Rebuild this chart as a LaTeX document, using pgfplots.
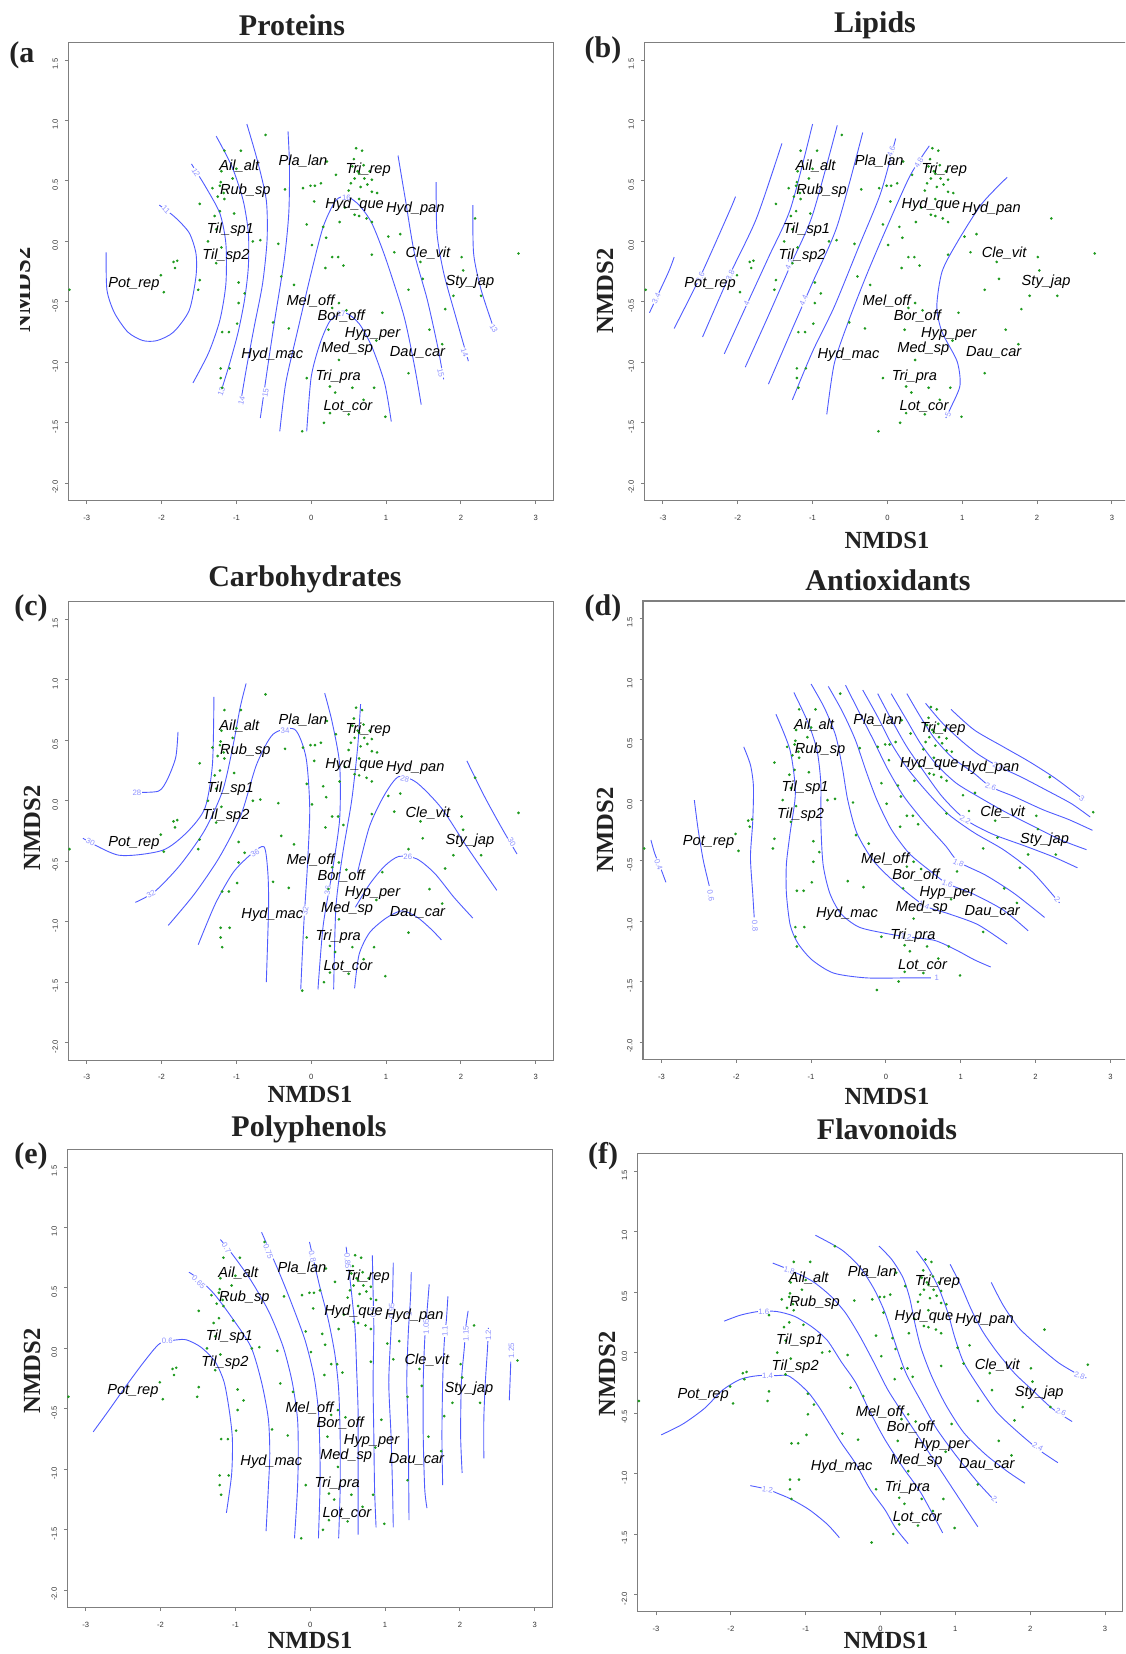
\documentclass[border=0pt]{standalone}
\usepackage{fontspec}
\setmainfont{Liberation Serif}
\newfontfamily\sfam{Liberation Sans}
\usepackage{pgfplots}
\usepackage{pgfplotstable}
\pgfplotsset{compat=1.18}

\definecolor{CBlue}{HTML}{4F5BFF}
\definecolor{CLab}{HTML}{8E92FF}
\definecolor{DotG}{HTML}{1F9A1F}
\definecolor{Frame}{HTML}{7F7F7F}
\definecolor{TickC}{HTML}{333333}
\definecolor{Ink}{HTML}{222222}

\newcommand\tickfont{\sfam\fontsize{3.8}{4.5}\selectfont}
\newcommand\spfont{\sfam\itshape\fontsize{7.3}{8}\selectfont}
\newcommand\clabfont{\sfam\fontsize{3.9}{4.5}\selectfont}

% sample scores (NMDS1, NMDS2)
\pgfplotstableread{
x y
-0.61 0.88
-1.16 0.75
-0.94 0.75
-1.00 0.60
-1.21 0.49
-1.22 0.46
-1.32 0.44
-1.25 0.37
-1.16 0.35
-1.49 0.31
-1.22 0.25
-1.03 0.23
-1.29 0.21
-0.78 0.00
-0.68 0.01
-0.44 -0.02
-1.79 -0.16
-1.84 -0.17
-1.82 -0.22
-1.27 -0.18
-1.49 -0.32
-2.01 -0.28
-1.97 -0.42
-1.51 -0.40
-3.23 -0.40
-0.97 -0.34
-0.89 -0.43
-0.97 -0.51
-0.99 -0.68
-1.19 -0.75
-1.10 -0.75
-0.51 -0.67
-0.30 -0.72
-0.40 -0.29
-0.23 -0.36
-1.21 -1.05
-1.09 -1.05
-1.21 -1.13
-1.19 -1.21
-0.35 0.43
-0.11 0.44
-0.01 0.46
0.05 0.46
0.13 0.48
0.04 0.33
-0.06 0.14
0.01 -0.03
0.16 0.12
0.28 -0.13
0.36 -0.13
0.43 -0.20
0.19 -0.22
0.20 0.03
0.38 0.16
0.21 0.66
0.33 0.55
0.60 0.77
0.68 0.75
0.57 0.68
0.55 0.62
0.64 0.56
0.71 0.52
0.81 0.51
0.53 0.48
0.50 0.42
0.81 0.41
0.88 0.40
0.64 0.35
0.74 0.19
0.81 0.16
0.64 0.21
1.03 0.04
1.19 0.06
1.11 -0.09
0.81 -0.11
1.46 -0.17
2.01 -0.13
2.77 -0.10
2.19 0.19
2.03 -0.24
1.49 -0.31
1.30 -0.40
1.90 -0.45
2.27 -0.45
1.79 -0.56
0.37 -0.51
0.28 -0.55
0.47 -0.57
0.95 -0.59
1.58 -0.73
1.75 -0.85
0.23 -0.73
0.37 -0.98
1.30 -1.09
-0.06 -1.13
0.25 -1.20
0.32 -1.25
0.55 -1.21
0.84 -1.21
0.70 -1.31
0.25 -1.42
0.50 -1.43
0.17 -1.50
0.99 -1.45
-0.12 -1.57
0.87 -0.82
0.62 0.58
0.70 0.63
0.58 0.52
0.75 0.47
0.66 0.45
0.78 0.58
-1.20 0.58
-1.17 0.40
-1.05 0.52
0.45 0.28
0.58 0.22
-1.27 0.10
-1.20 -0.05
-1.38 0.00
}\dotstab

% species scores
\pgfplotstableread{
lab x y
Ail\_alt -0.96 0.62
Pla\_lan -0.11 0.665
Tri\_rep 0.76 0.59
Rub\_sp -0.88 0.415
Hyd\_que 0.58 0.30
Hyd\_pan 1.39 0.27
Til\_sp1 -1.08 0.10
Til\_sp2 -1.14 -0.12
Cle\_vit 1.56 -0.10
Pot\_rep -2.37 -0.35
Sty\_jap 2.12 -0.33
Mel\_off -0.01 -0.49
Bor\_off 0.40 -0.62
Hyp\_per 0.82 -0.765
Med\_sp 0.48 -0.89
Dau\_car 1.42 -0.92
Hyd\_mac -0.52 -0.94
Tri\_pra 0.36 -1.12
Lot\_cor 0.49 -1.365
}\sptab

\pgfplotsset{
  nmds/.style={
    anchor=north west, scale only axis, width=242.5pt, height=229.2pt,
    xmin=-3.246, xmax=3.235, ymin=-2.144, ymax=1.646,
    axis line style={draw=Frame, line width=0.55pt},
    tick pos=left, tick align=outside, major tick length=1.7pt,
    tick style={draw=Frame, line width=0.45pt},
    xtick={-3,-2,-1,0,1,2,3}, xticklabels={-3,-2,-1,0,1,2,3},
    ytick={-2,-1.5,-1,-0.5,0,0.5,1,1.5},
    yticklabels={-2.0,-1.5,-1.0,-0.5,0.0,0.5,1.0,1.5},
    xticklabel style={font=\tickfont, text=TickC, yshift=-2pt},
    yticklabel style={font=\tickfont, text=TickC, rotate=90, anchor=south, xshift=-2pt},
  },
  cont/.style={color=CBlue, line width=0.45pt, smooth, tension=0.45, mark=none},
}
\tikzset{
  clab/.style={text=CLab, font=\clabfont, fill=white, inner sep=0.3pt},
  ttl/.style={font=\fontsize{15}{18}\selectfont\bfseries, text=Ink},
  axl/.style={font=\fontsize{12.3}{14}\selectfont\bfseries, text=Ink},
}
\newcommand\spdots{%
  \addplot[only marks, mark=*, mark size=0.45pt, color=DotG] table[x=x,y=y] {\dotstab};
  \addplot[draw=none, mark=none, nodes near coords, point meta=explicit symbolic,
    nodes near coords align={center},
    every node near coord/.style={anchor=center, font=\spfont, text=black, inner sep=0pt}]
    table[x=x,y=y,meta=lab] {\sptab};
}

\begin{document}
\begin{tikzpicture}
\path[use as bounding box] (0,0) rectangle (562.5pt,-827pt);
\clip (0,0) rectangle (562.5pt,-827pt);

% ---------- (a) Proteins
\begin{axis}[nmds, at={(34.15pt,-21.15pt)}]
\addplot[cont] coordinates {(-2.03,0.30)(-1.82,0.20)(-1.63,0.07)(-1.54,-0.10)(-1.54,-0.29)(-1.63,-0.57)(-1.84,-0.75)(-2.06,-0.82)(-2.25,-0.82)(-2.45,-0.75)(-2.63,-0.59)(-2.73,-0.40)(-2.74,-0.09)};
\addplot[cont] coordinates {(-1.60,0.64)(-1.41,0.45)(-1.22,0.23)(-1.14,-0.02)(-1.14,-0.35)(-1.22,-0.65)(-1.37,-0.92)(-1.58,-1.17)};
\addplot[cont] coordinates {(-1.27,0.87)(-1.06,0.62)(-0.91,0.34)(-0.84,0.07)(-0.84,-0.21)(-0.89,-0.48)(-0.98,-0.76)(-1.10,-1.03)(-1.20,-1.23)};
\addplot[cont] coordinates {(-0.86,0.97)(-0.72,0.67)(-0.60,0.34)(-0.59,0.01)(-0.65,-0.35)(-0.76,-0.70)(-0.86,-1.03)(-0.94,-1.32)};
\addplot[cont] coordinates {(-0.31,0.91)(-0.29,0.62)(-0.30,0.23)(-0.36,-0.15)(-0.48,-0.62)(-0.58,-1.03)(-0.68,-1.46)};
\addplot[cont] coordinates {(-0.42,-1.57)(-0.34,-1.17)(-0.19,-0.76)(0.00,-0.26)(0.16,0.12)(0.33,0.34)(0.48,0.37)(0.64,0.30)(0.81,0.15)(1.00,-0.15)(1.24,-0.62)(1.38,-1.03)(1.47,-1.35)};
\addplot[cont] coordinates {(-0.06,-1.57)(0.00,-1.12)(0.12,-0.84)(0.26,-0.65)(0.45,-0.59)(0.64,-0.68)(0.81,-0.87)(0.98,-1.17)(1.07,-1.49)};
\addplot[cont] coordinates {(1.16,0.71)(1.26,0.34)(1.38,-0.10)(1.55,-0.48)(1.69,-0.87)(1.77,-1.14)};
\addplot[cont] coordinates {(1.67,0.49)(1.68,0.07)(1.77,-0.26)(1.93,-0.62)(2.10,-0.99)};
\addplot[cont] coordinates {(2.16,0.30)(2.17,-0.10)(2.27,-0.40)(2.44,-0.72)};
\node[clab,rotate=-45] at (axis cs:-1.94,0.26) {11};
\node[clab,rotate=-60] at (axis cs:-1.54,0.57) {12};
\node[clab,rotate=70] at (axis cs:-1.20,-1.24) {13};
\node[clab,rotate=75] at (axis cs:-0.93,-1.32) {14};
\node[clab,rotate=80] at (axis cs:-0.61,-1.25) {15};
\node[clab] at (axis cs:0.47,0.36) {16};
\node[clab] at (axis cs:0.40,-0.60) {17};
\node[clab,rotate=-75] at (axis cs:1.73,-1.09) {15};
\node[clab,rotate=-70] at (axis cs:2.05,-0.92) {14};
\node[clab,rotate=-60] at (axis cs:2.44,-0.72) {13};
\spdots
\end{axis}

% ---------- (b) Lipids
\begin{axis}[nmds, at={(322.25pt,-21.15pt)}]
\addplot[cont] coordinates {(-3.18,-0.59)(-2.93,-0.26)(-2.85,-0.13)};
\addplot[cont] coordinates {(-2.85,-0.72)(-2.50,-0.29)(-2.11,0.25)(-2.03,0.37)};
\addplot[cont] coordinates {(-2.47,-0.79)(-2.11,-0.28)(-1.75,0.19)(-1.41,0.81)};
\addplot[cont] coordinates {(-2.18,-0.93)(-1.87,-0.51)(-1.58,-0.12)(-1.29,0.28)(-1.00,0.97)};
\addplot[cont] coordinates {(-1.90,-1.04)(-1.58,-0.60)(-1.29,-0.19)(-1.00,0.22)(-0.67,0.96)};
\addplot[cont] coordinates {(-1.59,-1.18)(-1.29,-0.75)(-1.00,-0.34)(-0.67,0.13)(-0.33,0.90)};
\addplot[cont] coordinates {(-1.27,-1.31)(-1.00,-0.91)(-0.71,-0.54)(-0.38,-0.04)(-0.09,0.40)(0.11,0.85)};
\addplot[cont] coordinates {(-0.81,-1.43)(-0.71,-1.01)(-0.52,-0.66)(-0.28,-0.28)(-0.04,0.07)(0.30,0.54)(0.56,0.79)};
\addplot[cont] coordinates {(1.60,0.53)(1.26,0.31)(0.93,-0.01)(0.73,-0.25)(0.66,-0.54)(0.73,-0.75)(0.93,-0.99)(0.97,-1.19)(0.85,-1.37)(0.78,-1.46)};
\node[clab,rotate=65] at (axis cs:-3.09,-0.47) {3.4};
\node[clab,rotate=65] at (axis cs:-2.50,-0.30) {3.6};
\node[clab,rotate=65] at (axis cs:-2.10,-0.28) {3.8};
\node[clab,rotate=65] at (axis cs:-1.88,-0.51) {4};
\node[clab,rotate=65] at (axis cs:-1.31,-0.19) {4.2};
\node[clab,rotate=65] at (axis cs:-1.12,-0.49) {4.4};
\node[clab,rotate=70] at (axis cs:0.05,0.74) {4.6};
\node[clab,rotate=60] at (axis cs:0.42,0.65) {4.8};
\node[clab,rotate=70] at (axis cs:0.81,-1.43) {5};
\spdots
\end{axis}

% ---------- (c) Carbohydrates
\begin{axis}[nmds, at={(34.15pt,-300.85pt)}]
\addplot[cont] coordinates {(-1.78,0.57)(-1.81,0.36)(-1.92,0.18)(-2.04,0.08)(-2.35,0.07)};
\addplot[cont] coordinates {(-3.05,-0.31)(-2.57,-0.45)(-1.99,-0.41)(-1.66,-0.26)(-1.42,-0.06)(-1.32,0.30)(-1.30,0.86)};
\addplot[cont] coordinates {(-2.35,-0.84)(-2.09,-0.75)(-1.75,-0.53)(-1.42,-0.24)(-1.18,0.09)(-1.04,0.47)(-0.95,0.77)(-0.87,0.97)};
\addplot[cont] coordinates {(-1.91,-1.03)(-1.56,-0.77)(-1.23,-0.47)(-0.94,-0.12)(-0.73,0.30)(-0.51,0.55)(-0.22,0.59)(-0.07,0.36)(-0.02,-0.06)(-0.05,-0.53)(-0.10,-1.03)(-0.14,-1.56)};
\addplot[cont] coordinates {(-1.51,-1.19)(-1.28,-0.85)(-1.04,-0.59)(-0.80,-0.44)(-0.63,-0.38)(-0.58,-0.59)(-0.57,-0.88)(-0.60,-1.50)};
\addplot[cont] coordinates {(0.18,0.89)(0.28,0.65)(0.38,0.30)(0.38,-0.15)(0.28,-0.59)(0.16,-1.03)(0.09,-1.56)};
\addplot[cont] coordinates {(0.66,0.80)(0.62,0.44)(0.54,0.00)(0.42,-0.44)(0.33,-0.88)(0.30,-1.56)};
\addplot[cont] coordinates {(0.58,-1.55)(0.64,-1.27)(0.78,-1.09)(1.00,-0.97)(1.21,-0.91)(1.41,-0.96)(1.60,-1.06)(1.74,-1.15)};
\addplot[cont] coordinates {(0.59,-0.88)(0.78,-0.69)(0.98,-0.54)(1.17,-0.46)(1.41,-0.48)(1.65,-0.60)(1.91,-0.80)(2.16,-0.97)};
\addplot[cont] coordinates {(0.62,-0.59)(0.78,-0.21)(0.98,0.05)(1.17,0.20)(1.41,0.15)(1.74,-0.06)(2.08,-0.38)(2.48,-0.74)};
\addplot[cont] coordinates {(2.08,0.33)(2.32,0.03)(2.56,-0.24)(2.75,-0.44)};
\node[clab] at (axis cs:-2.33,0.07) {28};
\node[clab,rotate=-25] at (axis cs:-2.95,-0.34) {30};
\node[clab,rotate=30] at (axis cs:-2.14,-0.77) {32};
\node[clab,rotate=5] at (axis cs:-0.35,0.58) {34};
\node[clab,rotate=30] at (axis cs:-0.75,-0.43) {36};
\node[clab,rotate=80] at (axis cs:0.22,-0.74) {36};
\node[clab,rotate=80] at (axis cs:-0.08,-0.91) {32};
\node[clab,rotate=-15] at (axis cs:1.25,0.18) {28};
\node[clab] at (axis cs:1.29,-0.46) {26};
\node[clab,rotate=-60] at (axis cs:2.68,-0.34) {30};
\spdots
\end{axis}

% ---------- (d) Antioxidants
\begin{axis}[nmds, at={(321.5pt,-300.5pt)}]
\addplot[cont] coordinates {(-3.14,-0.33)(-3.09,-0.44)(-3.00,-0.58)(-2.94,-0.68)};
\addplot[cont] coordinates {(-2.56,0.00)(-2.51,-0.24)(-2.44,-0.50)(-2.36,-0.71)};
\addplot[cont] coordinates {(-1.90,0.44)(-1.81,0.29)(-1.77,0.11)(-1.78,-0.18)(-1.81,-0.47)(-1.78,-0.77)(-1.76,-0.97)};
\addplot[cont] coordinates {(-1.47,0.71)(-1.28,0.41)(-1.21,0.06)(-1.28,-0.27)(-1.33,-0.53)(-1.33,-0.77)(-1.28,-1.03)(-1.18,-1.18)(-0.99,-1.32)(-0.70,-1.43)(-0.26,-1.47)(0.27,-1.47)(0.60,-1.47)};
\addplot[cont] coordinates {(-1.23,0.89)(-1.04,0.64)(-0.92,0.41)(-0.87,0.14)(-0.87,-0.18)(-0.84,-0.53)(-0.75,-0.77)(-0.60,-0.94)(-0.36,-1.05)(-0.02,-1.10)(0.27,-1.13)(0.65,-1.16)(0.94,-1.24)(1.18,-1.32)(1.40,-1.38)};
\addplot[cont] coordinates {(-1.00,0.96)(-0.82,0.76)(-0.67,0.53)(-0.58,0.26)(-0.51,0.00)(-0.39,-0.27)(-0.17,-0.50)(0.12,-0.68)(0.51,-0.87)(0.84,-0.94)(1.23,-1.03)(1.62,-1.19)};
\addplot[cont] coordinates {(-0.77,0.94)(-0.58,0.73)(-0.41,0.50)(-0.26,0.23)(-0.12,0.00)(0.07,-0.24)(0.31,-0.44)(0.60,-0.59)(0.82,-0.69)(1.18,-0.78)(1.57,-0.91)(1.90,-1.08)};
\addplot[cont] coordinates {(-0.54,0.95)(-0.36,0.73)(-0.17,0.50)(0.02,0.26)(0.24,0.03)(0.51,-0.18)(0.80,-0.38)(0.97,-0.51)(1.33,-0.62)(1.71,-0.77)(2.12,-0.97)};
\addplot[cont] coordinates {(-0.31,0.91)(-0.12,0.70)(0.07,0.47)(0.29,0.26)(0.56,0.06)(0.84,-0.12)(1.18,-0.27)(1.57,-0.41)(1.95,-0.59)(2.32,-0.85)};
\addplot[cont] coordinates {(-0.11,0.88)(0.07,0.67)(0.27,0.45)(0.48,0.26)(0.75,0.03)(1.06,-0.16)(1.42,-0.28)(1.86,-0.38)(2.24,-0.47)(2.56,-0.56)};
\addplot[cont] coordinates {(0.07,0.88)(0.27,0.67)(0.46,0.47)(0.68,0.29)(0.94,0.14)(1.23,0.03)(1.57,-0.09)(1.95,-0.21)(2.34,-0.33)(2.68,-0.41)};
\addplot[cont] coordinates {(0.28,0.88)(0.46,0.69)(0.65,0.51)(0.89,0.35)(1.18,0.22)(1.40,0.11)(1.71,0.03)(2.10,-0.08)(2.44,-0.16)(2.76,-0.25)};
\addplot[cont] coordinates {(0.53,0.80)(0.75,0.64)(0.99,0.50)(1.23,0.38)(1.50,0.28)(1.81,0.19)(2.15,0.08)(2.48,-0.03)(2.73,-0.14)};
\addplot[cont] coordinates {(0.87,0.75)(1.18,0.58)(1.57,0.44)(1.91,0.32)(2.24,0.19)(2.48,0.08)(2.65,0.00)};
\node[clab,rotate=-70] at (axis cs:-3.04,-0.53) {0.4};
\node[clab,rotate=-80] at (axis cs:-2.34,-0.79) {0.6};
\node[clab,rotate=-85] at (axis cs:-1.75,-1.04) {0.8};
\node[clab] at (axis cs:0.68,-1.47) {1};
\node[clab,rotate=-10] at (axis cs:0.27,-1.13) {1.2};
\node[clab,rotate=-20] at (axis cs:0.51,-0.87) {1.4};
\node[clab,rotate=-20] at (axis cs:0.82,-0.69) {1.6};
\node[clab,rotate=-25] at (axis cs:0.97,-0.52) {1.8};
\node[clab,rotate=-50] at (axis cs:2.29,-0.82) {2};
\node[clab,rotate=-30] at (axis cs:1.06,-0.16) {2.2};
\node[clab,rotate=-20] at (axis cs:1.40,0.11) {2.6};
\node[clab,rotate=-25] at (axis cs:1.50,0.28) {2.8};
\node[clab,rotate=-35] at (axis cs:2.62,0.01) {3};
\spdots
\end{axis}

% ---------- (e) Polyphenols
\begin{axis}[nmds, at={(33.65pt,-574.65pt)}]
\addplot[cont] coordinates {(-2.90,-0.69)(-2.70,-0.52)(-2.46,-0.31)(-2.22,-0.11)(-2.01,0.04)(-1.79,0.07)(-1.65,0.07)(-1.46,0.01)(-1.27,-0.11)(-1.15,-0.28)(-1.08,-0.52)(-1.04,-0.75)(-1.05,-1.04)(-1.12,-1.36)};
\addplot[cont] coordinates {(-1.62,0.63)(-1.46,0.56)(-1.27,0.44)(-1.03,0.24)(-0.79,0.01)(-0.65,-0.28)(-0.56,-0.58)(-0.54,-0.87)(-0.56,-1.16)(-0.59,-1.51)};
\addplot[cont] coordinates {(-1.20,0.90)(-1.03,0.77)(-0.79,0.56)(-0.55,0.30)(-0.36,0.01)(-0.24,-0.28)(-0.17,-0.58)(-0.16,-0.87)(-0.17,-1.16)(-0.21,-1.57)};
\addplot[cont] coordinates {(-0.65,0.96)(-0.43,0.65)(-0.26,0.39)(-0.07,0.07)(0.05,-0.23)(0.11,-0.52)(0.13,-0.87)(0.13,-1.16)(0.11,-1.57)};
\addplot[cont] coordinates {(-0.01,0.88)(0.12,0.53)(0.24,0.24)(0.33,-0.05)(0.38,-0.34)(0.40,-0.72)(0.40,-1.16)(0.38,-1.57)};
\addplot[cont] coordinates {(0.48,0.84)(0.55,0.47)(0.60,0.15)(0.62,-0.17)(0.64,-0.52)(0.64,-0.87)(0.64,-1.54)};
\addplot[cont] coordinates {(0.83,0.77)(0.84,0.47)(0.85,0.15)(0.84,-0.28)(0.85,-0.72)(0.86,-1.16)(0.88,-1.48)};
\addplot[cont] coordinates {(1.11,0.71)(1.10,0.42)(1.08,0.15)(1.05,-0.28)(1.08,-0.72)(1.10,-1.16)(1.11,-1.48)};
\addplot[cont] coordinates {(1.35,0.63)(1.34,0.42)(1.31,0.12)(1.29,-0.28)(1.31,-0.72)(1.32,-1.42)};
\addplot[cont] coordinates {(1.59,0.53)(1.56,0.30)(1.53,0.07)(1.51,-0.28)(1.51,-0.72)(1.53,-1.16)(1.56,-1.32)};
\addplot[cont] coordinates {(1.84,0.43)(1.82,0.24)(1.79,0.04)(1.77,-0.28)(1.76,-0.72)(1.77,-1.13)};
\addplot[cont] coordinates {(2.11,0.31)(2.08,0.18)(2.06,0.01)(2.02,-0.28)(2.01,-0.72)(2.03,-1.03)};
\addplot[cont] coordinates {(2.38,0.17)(2.37,0.01)(2.34,-0.28)(2.32,-0.58)(2.32,-0.91)};
\addplot[cont] coordinates {(2.68,-0.11)(2.67,-0.28)(2.66,-0.43)};
\node[clab] at (axis cs:-1.91,0.06) {0.6};
\node[clab,rotate=-45] at (axis cs:-1.49,0.55) {0.65};
\node[clab,rotate=-60] at (axis cs:-1.12,0.83) {0.7};
\node[clab,rotate=-70] at (axis cs:-0.56,0.80) {0.75};
\node[clab,rotate=-78] at (axis cs:0.03,0.76) {0.8};
\node[clab,rotate=-85] at (axis cs:0.50,0.72) {0.85};
\node[clab,rotate=90] at (axis cs:0.84,0.30) {0.9};
\node[clab,rotate=90] at (axis cs:1.09,0.31) {0.95};
\node[clab,rotate=90] at (axis cs:1.32,0.28) {1};
\node[clab,rotate=90] at (axis cs:1.55,0.18) {1.05};
\node[clab,rotate=90] at (axis cs:1.80,0.14) {1.1};
\node[clab,rotate=90] at (axis cs:2.08,0.12) {1.15};
\node[clab,rotate=90] at (axis cs:2.38,0.11) {1.2};
\node[clab,rotate=90] at (axis cs:2.69,-0.02) {1.25};
\spdots
\end{axis}

% ---------- (f) Flavonoids
\begin{axis}[nmds, at={(318.8pt,-576.75pt)}]
\addplot[cont] coordinates {(-2.93,-0.68)(-2.64,-0.59)(-2.35,-0.46)(-2.11,-0.31)(-1.87,-0.22)(-1.63,-0.19)(-1.39,-0.19)(-1.24,-0.19)(-1.10,-0.25)(-0.95,-0.34)(-0.81,-0.46)(-0.67,-0.60)(-0.52,-0.75)(-0.33,-0.92)(-0.14,-1.13)(0.06,-1.30)(0.20,-1.45)(0.37,-1.58)};
\addplot[cont] coordinates {(-2.09,0.26)(-1.87,0.31)(-1.63,0.34)(-1.39,0.34)(-1.15,0.30)(-0.91,0.21)(-0.71,0.10)(-0.52,-0.08)(-0.33,-0.25)(-0.14,-0.49)(0.06,-0.72)(0.30,-0.95)(0.54,-1.16)(0.83,-1.49)};
\addplot[cont] coordinates {(-1.44,0.74)(-1.20,0.68)(-0.91,0.59)(-0.67,0.47)(-0.47,0.33)(-0.28,0.14)(-0.09,-0.08)(0.10,-0.31)(0.34,-0.54)(0.63,-0.81)(0.97,-1.13)(1.30,-1.44)};
\addplot[cont] coordinates {(-0.87,0.97)(-0.52,0.85)(-0.28,0.71)(-0.09,0.53)(0.06,0.33)(0.20,0.07)(0.34,-0.17)(0.54,-0.40)(0.75,-0.63)(1.02,-0.86)(1.31,-1.08)(1.55,-1.24)};
\addplot[cont] coordinates {(-0.02,0.88)(0.15,0.77)(0.30,0.62)(0.39,0.45)(0.46,0.24)(0.54,0.04)(0.68,-0.19)(0.87,-0.43)(1.11,-0.66)(1.40,-0.84)(1.69,-0.98)(1.93,-1.08)};
\addplot[cont] coordinates {(0.48,0.84)(0.63,0.71)(0.78,0.53)(0.90,0.33)(0.99,0.13)(1.11,-0.08)(1.31,-0.28)(1.55,-0.49)(1.84,-0.66)(2.13,-0.81)(2.37,-0.91)};
\addplot[cont] coordinates {(0.93,0.73)(1.07,0.56)(1.21,0.36)(1.36,0.18)(1.55,0.01)(1.79,-0.17)(2.03,-0.31)(2.29,-0.46)(2.56,-0.57)};
\addplot[cont] coordinates {(1.48,0.58)(1.64,0.39)(1.84,0.21)(2.08,0.07)(2.37,-0.08)(2.61,-0.17)(2.75,-0.21)};
\addplot[cont] coordinates {(-1.74,-1.10)(-1.51,-1.13)(-1.39,-1.16)(-1.20,-1.21)(-0.95,-1.30)(-0.71,-1.42)(-0.55,-1.53)};
\node[clab] at (axis cs:-1.51,-0.19) {1.4};
\node[clab] at (axis cs:-1.56,0.34) {1.6};
\node[clab,rotate=-15] at (axis cs:-1.22,0.68) {1.8};
\node[clab,rotate=-40] at (axis cs:1.52,-1.21) {2};
\node[clab,rotate=-30] at (axis cs:2.10,-0.78) {2.4};
\node[clab,rotate=-25] at (axis cs:2.41,-0.49) {2.6};
\node[clab,rotate=-20] at (axis cs:2.66,-0.19) {2.8};
\node[clab,rotate=-10] at (axis cs:-1.51,-1.13) {1.2};
\spdots
\end{axis}

% ---------- titles, panel letters, axis titles
\begin{scope}[x=0.5pt,y=-0.5pt]
\node[ttl] at (292,25) {Proteins};
\node[ttl] at (875,25) {Lipids};
\node[ttl] at (305,579) {Carbohydrates};
\node[ttl] at (888,580) {Antioxidants};
\node[ttl] at (309,1129) {Polyphenols};
\node[ttl] at (887,1129) {Flavonoids};
\node[ttl,anchor=west,inner sep=0pt] at (9,55) {(a};
\node[ttl] at (603,50) {(b)};
\node[ttl] at (31,608) {(c)};
\node[ttl] at (603,608) {(d)};
\node[ttl] at (31,1156) {(e)};
\node[ttl] at (603,1156) {(f)};
\node[axl] at (887,540) {NMDS1};
\node[axl] at (310,1094) {NMDS1};
\node[axl] at (887,1096) {NMDS1};
\node[axl] at (310,1640) {NMDS1};
\node[axl] at (886,1640) {NMDS1};
\node[axl,rotate=90] at (22,290) {NMDS2};
\fill[white] (0,210) rectangle (20,370);
\node[axl,rotate=90] at (605,291) {NMDS2};
\node[axl,rotate=90] at (32,828) {NMDS2};
\node[axl,rotate=90] at (605,830) {NMDS2};
\node[axl,rotate=90] at (32,1371) {NMDS2};
\node[axl,rotate=90] at (607,1374) {NMDS2};
\end{scope}
\end{tikzpicture}
\end{document}
